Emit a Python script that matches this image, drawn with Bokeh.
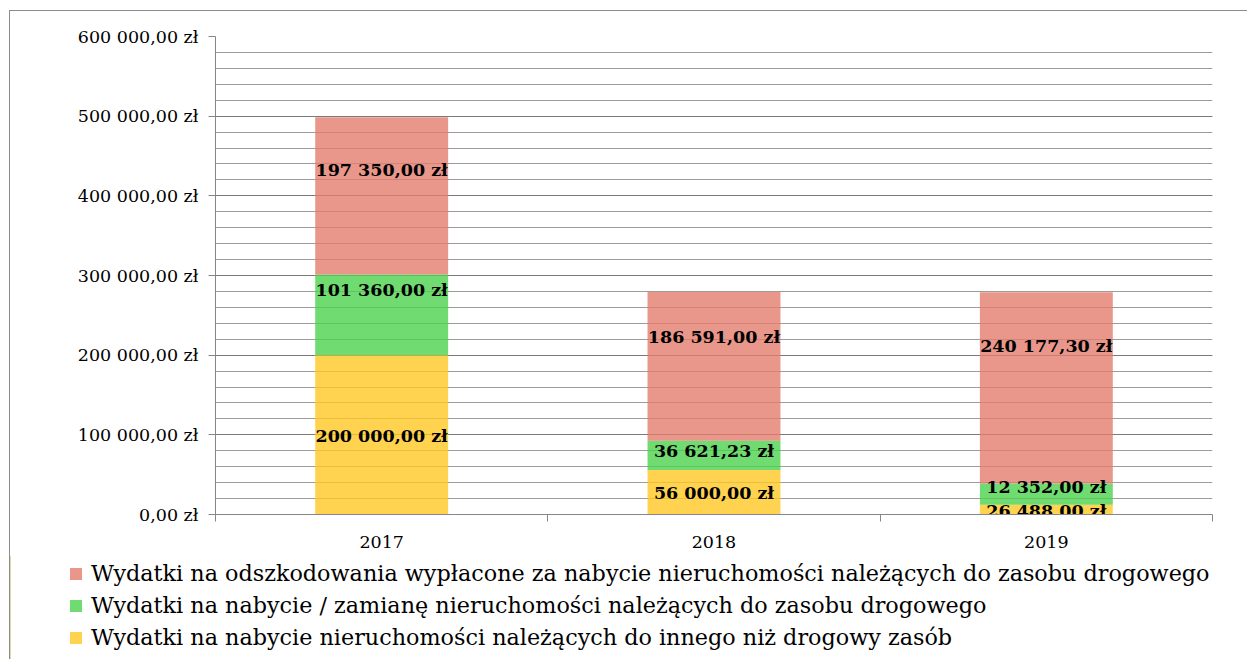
from bokeh.plotting import figure
from bokeh.models import ColumnDataSource, Range1d, FixedTicker, Legend, LegendItem
from bokeh.core.properties import value
from bokeh.embed import file_html
from bokeh.resources import INLINE

# ---- data ----
years = ["2017", "2018", "2019"]
yellow_vals = [200000.00, 56000.00, 12352.00]
green_vals = [101360.00, 36621.23, 26488.00]
red_vals = [197350.00, 186591.00, 240177.30]

red_labels = ["197 350,00 zł", "186 591,00 zł", "240 177,30 zł"]
green_labels = ["101 360,00 zł", "36 621,23 zł", "12 352,00 zł"]
yellow_labels = ["200 000,00 zł", "56 000,00 zł", "26 488,00 zł"]

# label anchor values (in zł on the value axis), as placed in the original
red_label_y = [433000, 223400, 212100]
green_label_y = [281200, 80300, 34300]
yellow_label_y = [99000, 26400, 5000]

series_names = [
    "Wydatki na odszkodowania wypłacone za nabycie nieruchomości należących do zasobu drogowego",
    "Wydatki na nabycie / zamianę nieruchomości należących do zasobu drogowego",
    "Wydatki na nabycie nieruchomości należących do innego niż drogowy zasób",
]

y_ticks = [0, 100000, 200000, 300000, 400000, 500000, 600000]
y_tick_labels = ["0,00 zł", "100 000,00 zł", "200 000,00 zł", "300 000,00 zł",
                 "400 000,00 zł", "500 000,00 zł", "600 000,00 zł"]
y_minor_ticks = list(range(0, 600001, 20000))

# ---- styles ----
RED = "#E47C6E"
GREEN = "#4CD24C"
YELLOW = "#FFC824"
BAR_ALPHA = 0.8
FONT = "DejaVu Serif"
BORDER = "1px solid #8c8c8c"

xpos = [i + 0.5 for i in range(len(years))]
source = ColumnDataSource(dict(
    x=xpos, yellow=yellow_vals, green=green_vals, red=red_vals,
))

p = figure(width=1238, height=545, output_backend="svg", toolbar_location=None,
           x_range=Range1d(0, len(years)), y_range=Range1d(0, 600000),
           min_border_left=205, min_border_right=36, min_border_top=25,
           min_border_bottom=42)
p.styles = {"margin-left": "9px", "margin-top": "10px",
            "border-left": BORDER, "border-top": BORDER}
p.outline_line_color = None

rs = p.vbar_stack(["yellow", "green", "red"], x="x", width=0.4, source=source,
                  color=[YELLOW, GREEN, RED], fill_alpha=BAR_ALPHA, line_alpha=0)

for labels, ys in ((red_labels, red_label_y), (green_labels, green_label_y),
                   (yellow_labels, yellow_label_y)):
    p.text(x=xpos, y=ys, text=labels, text_align="center", text_baseline="middle",
           text_font=value(FONT), text_font_style="bold", text_font_size="17.5px",
           text_color="black")

# y axis
yax = p.yaxis[0]
yax.ticker = FixedTicker(ticks=y_ticks, minor_ticks=y_minor_ticks)
yax.major_label_overrides = {t: l for t, l in zip(y_ticks, y_tick_labels)}
yax.major_label_text_font = FONT
yax.major_label_text_font_size = "17.5px"
yax.major_label_text_color = "black"
yax.axis_line_color = "#868686"
yax.major_tick_line_color = "#868686"
yax.major_tick_out = 7
yax.major_tick_in = 0
yax.minor_tick_out = 0
yax.minor_tick_in = 0
yax.major_label_standoff = 10

# x axis
xax = p.xaxis[0]
xax.ticker = FixedTicker(ticks=xpos, minor_ticks=list(range(len(years) + 1)))
xax.major_label_overrides = {x: y for x, y in zip(xpos, years)}
xax.major_label_text_font = FONT
xax.major_label_text_font_size = "17.5px"
xax.major_label_text_color = "black"
xax.axis_line_color = "#868686"
xax.major_tick_out = 0
xax.major_tick_in = 0
xax.minor_tick_line_color = "#868686"
xax.minor_tick_out = 7
xax.minor_tick_in = 0
xax.major_label_standoff = 14

p.xgrid.grid_line_color = None
p.ygrid.grid_line_color = "#7a7a7a"
p.ygrid.minor_grid_line_color = "#9c9c9c"

# ---- legend panel (separate root, directly below) ----
lg = figure(width=1238, height=104, output_backend="svg", toolbar_location=None,
            x_range=Range1d(0, 1), y_range=Range1d(0, 1),
            x_axis_type=None, y_axis_type=None,
            min_border_left=0, min_border_right=0, min_border_top=0,
            min_border_bottom=0)
lg.styles = {"margin-left": "9px", "border-left": BORDER}
lg.outline_line_color = None
lg.xgrid.visible = False
lg.ygrid.visible = False

swatches = []
for c in (RED, GREEN, YELLOW):
    swatches.append(lg.vbar(x=[-10], top=[1], width=0.1, color=c,
                            fill_alpha=BAR_ALPHA, line_alpha=0))

items = [LegendItem(label=n, renderers=[r]) for n, r in zip(series_names, swatches)]
legend = Legend(items=items, location=(58, 6), orientation="vertical",
                label_text_font=FONT, label_text_font_size="22.3px",
                label_text_color="black", glyph_width=15, glyph_height=15,
                label_height=32, label_standoff=8, spacing=0, padding=0, margin=0,
                border_line_color=None, background_fill_alpha=0)
lg.add_layout(legend, "center")

open("out.html", "w").write(file_html([p, lg], INLINE))
